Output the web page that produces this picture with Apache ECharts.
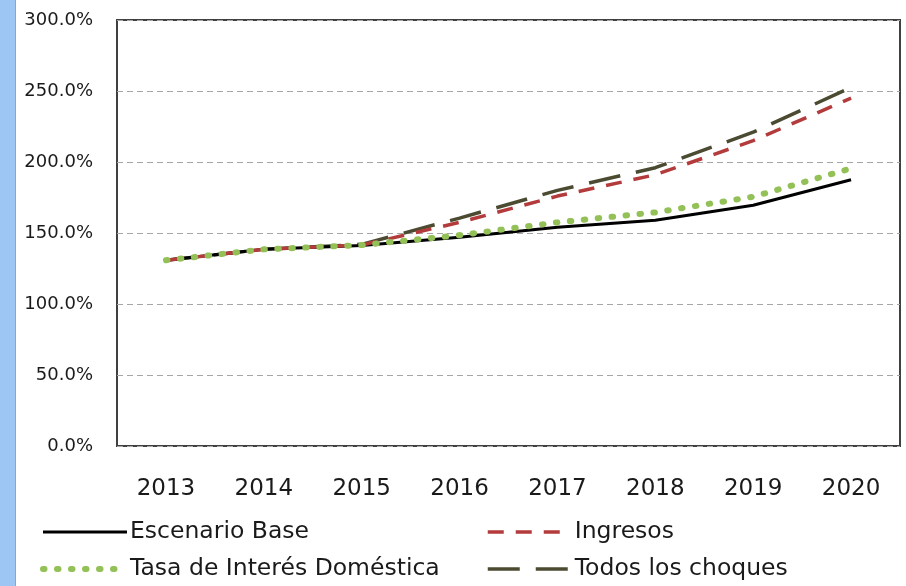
<!DOCTYPE html>
<html><head><meta charset="utf-8">
<script src="https://cdn.jsdelivr.net/npm/echarts@6/dist/echarts.min.js"></script>
<style>html,body{margin:0;padding:0;background:#fff}#c{width:906px;height:586px}</style>
</head><body><div id="c"></div>
<script>
const categories = ['2013','2014','2015','2016','2017','2018','2019','2020'];
const escenarioBase = [130.8, 138.5, 141.2, 147.0, 154.0, 159.0, 169.5, 187.5];
const ingresos      = [130.8, 138.5, 141.5, 157.5, 176.0, 191.0, 215.0, 245.0];
const tasaInteres   = [130.8, 138.5, 141.5, 148.5, 157.5, 164.5, 175.5, 195.5];
const todosChoques  = [130.8, 138.5, 142.0, 160.5, 180.0, 196.0, 221.0, 252.5];
const yTicks = [0, 50, 100, 150, 200, 250, 300];

const FONT = 'DejaVu Sans';
const styles = {
  'Escenario Base': {color:'#000000', width:3, type:'solid'},
  'Ingresos': {color:'#b33b3b', width:3.5, type:[16,12]},
  'Tasa de Interés Doméstica': {color:'#94c157', width:6, type:[1.5,12.5], cap:'round'},
  'Todos los choques': {color:'#4b4b32', width:3.5, type:[32,16]}
};
const legendItem = n => ({name:n, lineStyle:Object.assign({}, styles[n]), itemStyle:{opacity:0}});
const legendCommon = {orient:'vertical', top:515, itemWidth:84, itemHeight:14, itemGap:13,
  itemStyle:{opacity:0}, textStyle:{fontFamily:FONT, fontSize:23.5, color:'#1a1a1a', padding:[0,0,0,-2]}};
const chart = echarts.init(document.getElementById('c'), null, {renderer:'canvas'});
chart.setOption({
  animation:false,
  backgroundColor:'#ffffff',
  graphic:[
    {type:'rect', shape:{x:0,y:0,width:15,height:586}, style:{fill:'#9dc6f5'}},
    {type:'rect', shape:{x:15,y:0,width:1,height:586}, style:{fill:'#7fa8d8'}}
  ],
  grid:{left:117, right:6, top:20, bottom:140, show:true, borderColor:'#404040', borderWidth:2, backgroundColor:'#fff'},
  xAxis:{
    type:'category', data:categories, boundaryGap:true,
    axisLine:{show:false}, axisTick:{show:false}, splitLine:{show:false},
    axisLabel:{color:'#1a1a1a', fontFamily:FONT, fontSize:23, margin:32}
  },
  yAxis:{
    type:'value', min:yTicks[0], max:yTicks[yTicks.length-1], interval:50,
    axisLine:{show:false}, axisTick:{show:false},
    splitLine:{show:true, lineStyle:{color:'#a6a6a6', type:[6,4], width:1}},
    axisLabel:{color:'#1a1a1a', fontFamily:FONT, fontSize:18, margin:24,
      formatter:v=>v.toFixed(1)+'%'}
  },
  legend:[
    Object.assign({data:['Escenario Base','Tasa de Interés Doméstica'].map(legendItem), left:35}, legendCommon),
    Object.assign({data:['Ingresos','Todos los choques'].map(legendItem), left:481}, legendCommon)
  ],
  series:[
    {name:'Escenario Base', type:'line', data:escenarioBase, symbol:'none', z:3,
     lineStyle:styles['Escenario Base'], itemStyle:{color:'#000000'}},
    {name:'Ingresos', type:'line', data:ingresos, symbol:'none', z:4,
     lineStyle:styles['Ingresos'], itemStyle:{color:'#b33b3b'}},
    {name:'Tasa de Interés Doméstica', type:'line', data:tasaInteres, symbol:'none', z:5,
     lineStyle:styles['Tasa de Interés Doméstica'], itemStyle:{color:'#94c157'}},
    {name:'Todos los choques', type:'line', data:todosChoques, symbol:'none', z:2,
     lineStyle:styles['Todos los choques'], itemStyle:{color:'#4b4b32'}}
  ]
});
</script></body></html>
